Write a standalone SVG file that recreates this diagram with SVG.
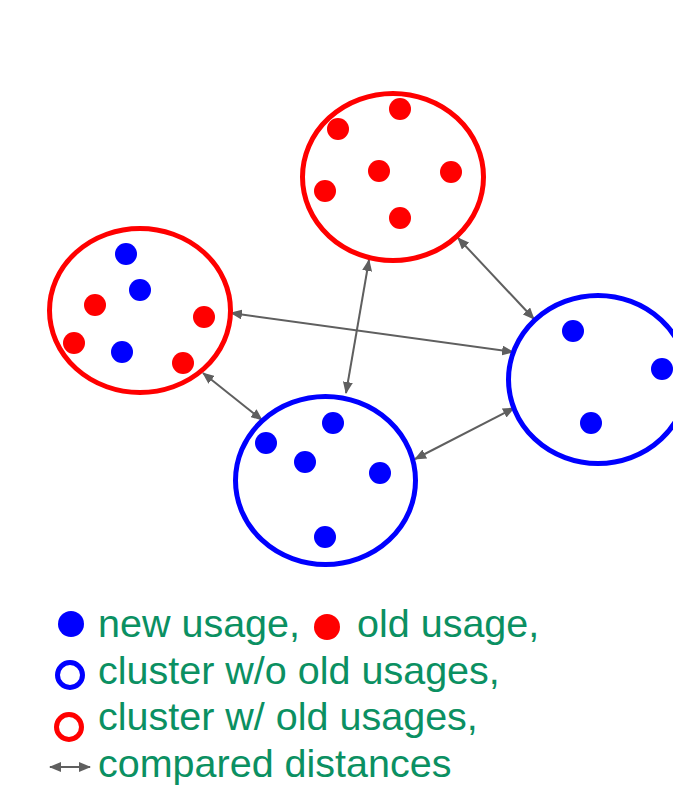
<svg xmlns="http://www.w3.org/2000/svg" width="673" height="790" viewBox="0 0 673 790">
<style>
.red{fill:none;stroke:#ff0000;stroke-width:5}
.blue{fill:none;stroke:#0000ff;stroke-width:5}
.rd{fill:#ff0000}
.bd{fill:#0000ff}
.con{stroke:#5f5f5f;stroke-width:2;fill:none;marker-start:url(#ah);marker-end:url(#ah)}
.lg{font-family:"Liberation Sans",Arial,sans-serif;font-size:39.5px;fill:#0b9062}
</style>
<defs>
<marker id="ah" viewBox="0 0 12 10" refX="11" refY="5" markerWidth="12" markerHeight="10" markerUnits="userSpaceOnUse" orient="auto-start-reverse">
<path d="M0,0 L12,5 L0,10 Z" fill="#5f5f5f"/>
</marker>
</defs>
<rect width="673" height="790" fill="#fff"/>
<g id="connectors">
<line class="con" x1="458" y1="238" x2="534" y2="319"/>
<line class="con" x1="369" y1="260" x2="346" y2="393"/>
<line class="con" x1="231" y1="313" x2="513" y2="352"/>
<line class="con" x1="203" y1="373" x2="262" y2="420"/>
<line class="con" x1="415" y1="459" x2="514" y2="408"/>
</g>
<g id="cluster-top-red">
<ellipse class="red" cx="393" cy="177" rx="90.5" ry="83.5"/>
<circle class="rd" cx="400" cy="109" r="11"/>
<circle class="rd" cx="338" cy="129" r="11"/>
<circle class="rd" cx="379" cy="171" r="11"/>
<circle class="rd" cx="451" cy="172" r="11"/>
<circle class="rd" cx="325" cy="191" r="11"/>
<circle class="rd" cx="400" cy="218" r="11"/>
</g>
<g id="cluster-left-red">
<ellipse class="red" cx="140" cy="310.5" rx="90.5" ry="82"/>
<circle class="bd" cx="126" cy="254" r="11"/>
<circle class="bd" cx="140" cy="290" r="11"/>
<circle class="rd" cx="95" cy="305" r="11"/>
<circle class="rd" cx="204" cy="317" r="11"/>
<circle class="rd" cx="74" cy="343" r="11"/>
<circle class="bd" cx="122" cy="352" r="11"/>
<circle class="rd" cx="183" cy="363" r="11"/>
</g>
<g id="cluster-bottom-blue">
<ellipse class="blue" cx="325.5" cy="480.5" rx="90" ry="84"/>
<circle class="bd" cx="333" cy="423" r="11"/>
<circle class="bd" cx="266" cy="443" r="11"/>
<circle class="bd" cx="305" cy="462" r="11"/>
<circle class="bd" cx="380" cy="473" r="11"/>
<circle class="bd" cx="325" cy="537" r="11"/>
</g>
<g id="cluster-right-blue">
<ellipse class="blue" cx="598" cy="379.5" rx="89.5" ry="84"/>
<circle class="bd" cx="573" cy="331" r="11"/>
<circle class="bd" cx="662" cy="369" r="11"/>
<circle class="bd" cx="591" cy="423" r="11"/>
</g>
<g id="legend">
<circle class="bd" cx="71" cy="624" r="13"/>
<text class="lg" x="98" y="637">new usage,</text>
<circle class="rd" cx="327" cy="627" r="13"/>
<text class="lg" x="357" y="637">old usage,</text>
<circle cx="70" cy="675" r="12.5" fill="none" stroke="#0000ff" stroke-width="5"/>
<text class="lg" x="98" y="684">cluster w/o old usages,</text>
<circle cx="69" cy="727" r="12.5" fill="none" stroke="#ff0000" stroke-width="5"/>
<text class="lg" x="98" y="730">cluster w/ old usages,</text>
<line class="con" x1="50" y1="767" x2="90" y2="767"/>
<text class="lg" x="98" y="777">compared distances</text>
</g>
</svg>
